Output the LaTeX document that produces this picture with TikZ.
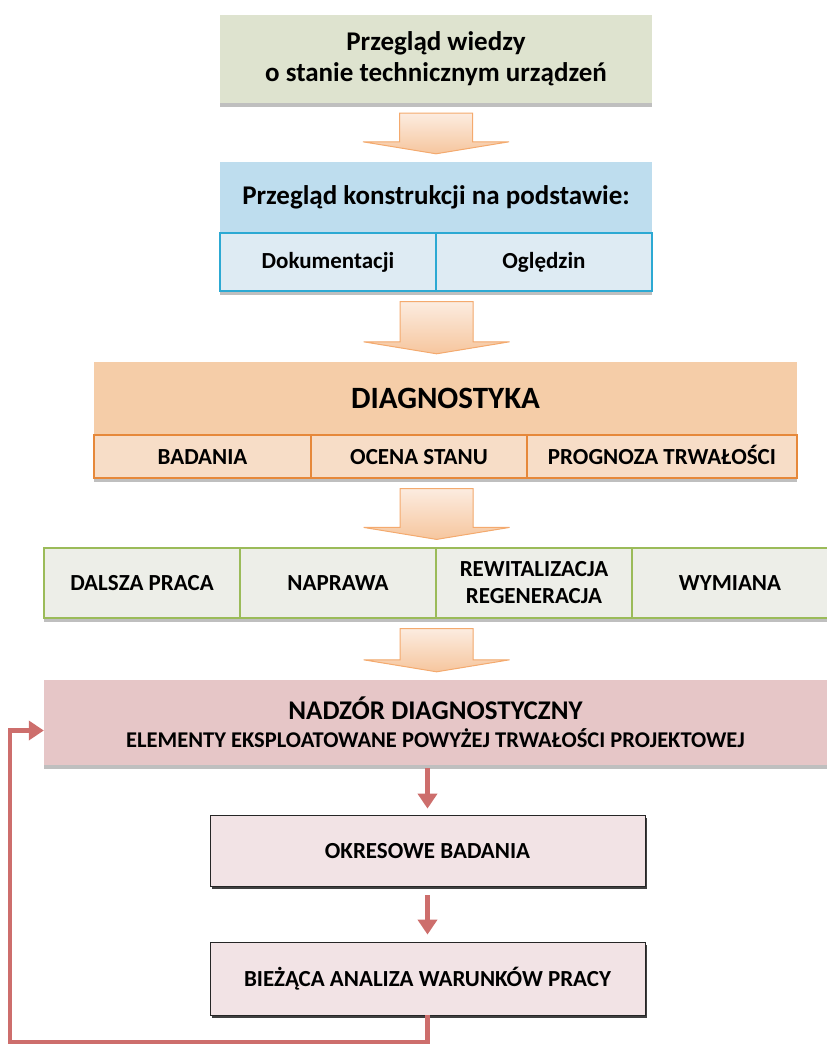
\documentclass[tikz,border=0pt]{standalone}
\usepackage{fontspec}
\setmainfont{Carlito}
\usetikzlibrary{calc,shadows,arrows.meta}

\definecolor{oliveBox}{RGB}{222,227,207}
\definecolor{blueHead}{RGB}{190,221,238}
\definecolor{blueCell}{RGB}{222,235,243}
\definecolor{blueLine}{RGB}{44,169,211}
\definecolor{peachHead}{RGB}{245,205,168}
\definecolor{peachCell}{RGB}{247,221,199}
\definecolor{orangeLine}{RGB}{230,136,58}
\definecolor{greyCell}{RGB}{237,238,232}
\definecolor{greenLine}{RGB}{155,187,89}
\definecolor{roseHead}{RGB}{230,198,199}
\definecolor{roseCell}{RGB}{242,227,229}
\definecolor{redLine}{RGB}{205,110,108}
\definecolor{arrowTop}{RGB}{252,236,224}
\definecolor{arrowBot}{RGB}{246,198,158}
\definecolor{arrowLine}{RGB}{244,170,110}

\newcommand\setsize[2]{\fontsize{#1}{#2}\selectfont\bfseries}
% wide orange arrow between two stages
\newcommand\blockarrow[2]{%
  \fill[black!20, yshift=-3pt] ($(#1)+(-36.5,10)$) -- ($(#1)+(36.5,10)$) -- ($(#2)+(36.5,-20)$) -- ($(#2)+(73,-20)$) -- ($(#2)+(0,-8)$) -- ($(#2)+(-73,-20)$) -- ($(#2)+(-36.5,-20)$) -- cycle;
  \shade[top color=arrowTop, bottom color=arrowBot, draw=arrowLine, line width=1pt] ($(#1)+(-36.5,10)$) -- ($(#1)+(36.5,10)$) -- ($(#2)+(36.5,-20)$) -- ($(#2)+(73,-20)$) -- ($(#2)+(0,-8)$) -- ($(#2)+(-73,-20)$) -- ($(#2)+(-36.5,-20)$) -- cycle;}

\begin{document}
\begin{tikzpicture}[
  x=1pt, y=-1pt,
  every node/.style={align=center, inner sep=0pt, text=black, font=\setsize{23}{27}},
  caps/.style={text height=15.5pt, text depth=0pt},
  sh/.style={drop shadow={shadow xshift=0pt, shadow yshift=-4pt, fill=black!25, opacity=1}},
  darksh/.style={drop shadow={shadow xshift=1.5pt, shadow yshift=-2.5pt, fill=black!75, opacity=1}},
  bluecell/.style={draw=blueLine, line width=1.2pt, fill=blueCell, minimum width=216pt, minimum height=58pt, sh},
  peachcell/.style={draw=orangeLine, line width=1.2pt, fill=peachCell, minimum height=43pt, caps, sh},
  greencell/.style={draw=greenLine, line width=1.2pt, fill=greyCell, minimum width=196pt, minimum height=70pt, sh},
  rosecell/.style={draw=black!85, line width=0.8pt, fill=roseCell, minimum width=435pt, caps, darksh},
  redline/.style={draw=redLine, line width=4.5pt},
  redarrow/.style={redline, -{Triangle[width=19pt,length=15pt]}}
]
  \useasboundingbox (0,0) rectangle (827,1047);

  \node[fill=oliveBox, minimum width=432pt, minimum height=88pt, sh, font=\setsize{27}{31}] (wiedza) at (436,59) {Przegląd wiedzy\\o stanie technicznym urządzeń};

  \node[fill=blueHead, minimum width=432pt, minimum height=71pt, font=\setsize{27}{31}] (podstawa) at (436,197.5) {Przegląd konstrukcji na podstawie:};
  \node[bluecell] (dok) at (328,262) {Dokumentacji};
  \node[bluecell] (ogl) at (544,262) {Oględzin};

  \node[fill=peachHead, minimum width=703pt, minimum height=73pt, font=\setsize{31}{35}] (diag) at (445.5,398.5) {DIAGNOSTYKA};
  \node[peachcell, minimum width=217pt] (badania) at (202.5,456.5) {BADANIA};
  \node[peachcell, minimum width=216pt] (ocena) at (419,456.5) {OCENA STANU};
  \node[peachcell, minimum width=270pt] (prognoza) at (662,456.5) {PROGNOZA TRWAŁOŚCI};

  \node[greencell, caps] (praca) at (142,583) {DALSZA PRACA};
  \node[greencell, caps] (naprawa) at (338,583) {NAPRAWA};
  \node[greencell] (rewital) at (534,583) {REWITALIZACJA\\REGENERACJA};
  \node[greencell, caps] (wymiana) at (730,583) {WYMIANA};

  \node[fill=roseHead, minimum width=783pt, minimum height=85pt, sh] (nadzor) at (435.5,722.5) {{\setsize{27}{30}NADZÓR DIAGNOSTYCZNY}\\[1pt]{\setsize{22.5}{26}ELEMENTY EKSPLOATOWANE POWYŻEJ TRWAŁOŚCI PROJEKTOWEJ}};

  \node[rosecell, minimum height=71pt] (okres) at (427.5,850.5) {OKRESOWE BADANIA};
  \node[rosecell, minimum height=73pt] (biez) at (427.5,978.5) {BIEŻĄCA ANALIZA WARUNKÓW PRACY};

  % orange stage arrows
  \blockarrow{wiedza.south}{podstawa.north}
  \coordinate (a2) at (dok.south east |- diag.north);
  \blockarrow{dok.south east}{a2}
  \coordinate (a3) at (naprawa.north east |- badania.south);
  \blockarrow{a3}{naprawa.north east}
  \coordinate (a4) at (naprawa.south east |- nadzor.north);
  \blockarrow{naprawa.south east}{a4}

  % monitoring loop
  \draw[redarrow, shorten <=3pt, shorten >=6pt] (okres.north |- nadzor.south) -- (okres.north);
  \draw[redarrow, shorten <=9pt, shorten >=7pt] (okres.south) -- (biez.north);
  \coordinate (fb) at (10,1042);
  \draw[redarrow] (biez.south) |- (fb) |- ($(nadzor.west)+(0,8)$);
\end{tikzpicture}
\end{document}
